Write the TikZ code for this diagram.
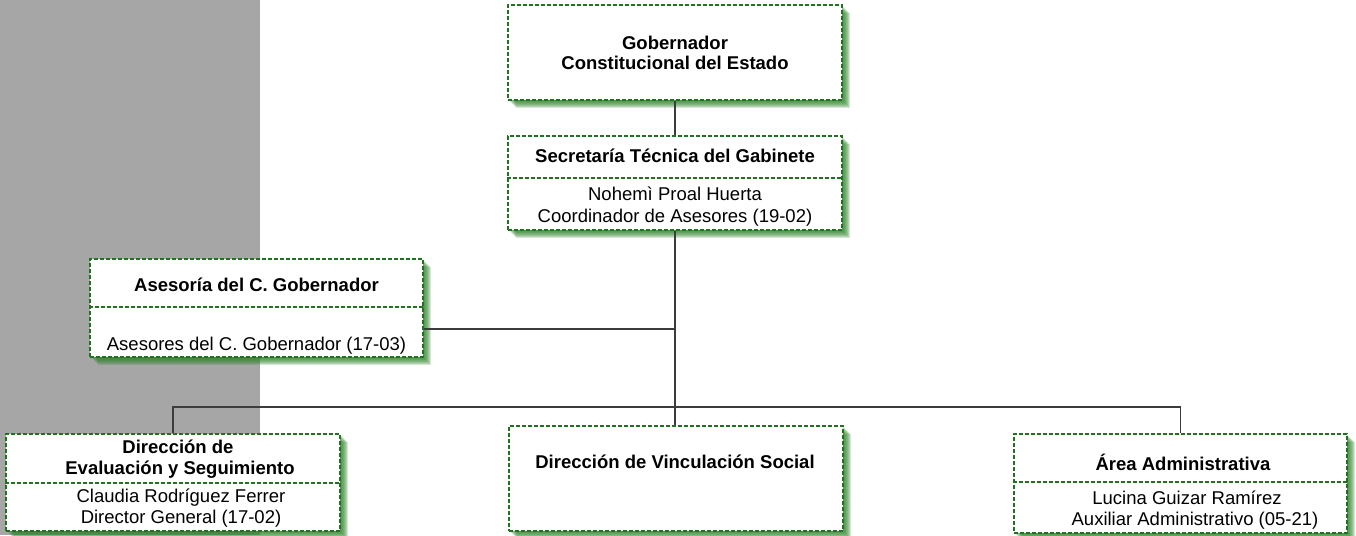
\documentclass[tikz,border=0pt]{standalone}
\usepackage{fontspec}
\setmainfont{Liberation Sans}
\definecolor{bggray}{RGB}{166,166,166}
\definecolor{dgreen}{RGB}{30,115,30}
\definecolor{shgreen}{RGB}{45,130,40}
\definecolor{linec}{RGB}{60,60,60}
\tikzset{
  sh/.style={preaction={fill=shgreen, fill opacity=0.2, transform canvas={shift={(#1pt,-#1pt)}}}},
  box/.style={draw=dgreen, dash pattern=on 4pt off 2pt, line width=1.2pt, fill=white, inner sep=0pt,
    sh=8, sh=7, sh=6, sh=5, sh=4, sh=3, sh=2, sh=1},
  divider/.style={draw=dgreen, dash pattern=on 4pt off 2pt, line width=1.1pt},
  conn/.style={draw=linec, line width=1.2pt},
  tb/.style={anchor=base, inner sep=0pt, font=\fontsize{18.5}{21}\selectfont\bfseries},
  tr/.style={anchor=base, inner sep=0pt, font=\fontsize{18.5}{21}\selectfont}
}
\begin{document}
\begin{tikzpicture}[x=1pt,y=-1pt]
\useasboundingbox (0,0) rectangle (1356,535);
\fill[bggray] (0,0) rectangle (260,535);

% boxes
\node[box, minimum width=334pt, minimum height=95pt] (gob) at (675,52.5) {};
\node[box, minimum width=334pt, minimum height=94pt] (sec) at (675,183) {};
\node[box, minimum width=333pt, minimum height=98pt] (ase) at (256.5,308) {};
\node[box, minimum width=334pt, minimum height=97pt] (eva) at (173,482.5) {};
\node[box, minimum width=334pt, minimum height=105pt] (vin) at (676,478.5) {};
\node[box, minimum width=333pt, minimum height=99pt] (area) at (1180.5,483.5) {};

% dividers
\draw[divider] (sec.west |- 0,178) -- (sec.east |- 0,178);
\draw[divider] (ase.west |- 0,307) -- (ase.east |- 0,307);
\draw[divider] (eva.west |- 0,483) -- (eva.east |- 0,483);
\draw[divider] (area.west |- 0,482) -- (area.east |- 0,482);

% connectors
\coordinate (bus) at (675,407);
\coordinate (asej) at (675,329);
\draw[conn] (gob.south) -- (sec.north);
\draw[conn] (sec.south) -- (bus);
\draw[conn] (bus) -- (vin.north -| bus);
\draw[conn] (ase.east |- asej) -- (asej);
\draw[conn] (eva.north) -- (eva.north |- bus) -- (area.north |- bus) -- (area.north);

% texts
\node[tb] (g1) at (675,49) {Gobernador};
\node[tb] (g2) at (675,70) {Constitucional del Estado};
\node[tb] (s1) at (675,162) {Secretaría Técnica del Gabinete};
\node[tr] (s2) at (675,200) {Nohemì Proal Huerta};
\node[tr] (s3) at (675,222) {Coordinador de Asesores (19-02)};
\node[tb] (a1) at (256.5,291) {Asesoría del C. Gobernador};
\node[tr] (a2) at (256.5,350) {Asesores del C. Gobernador (17-03)};
\node[tb] (e1) at (178,453) {Dirección de};
\node[tb] (e2) at (180,474) {Evaluación y Seguimiento};
\node[tr] (e3) at (181,502) {Claudia Rodríguez Ferrer};
\node[tr] (e4) at (181,523) {Director General (17-02)};
\node[tb] (v1) at (675,468) {Dirección de Vinculación Social};
\node[tb] (r1) at (1183,470) {Área Administrativa};
\node[tr] (r2) at (1187,504) {Lucina Guizar Ramírez};
\node[tr] (r3) at (1195,525) {Auxiliar Administrativo (05-21)};
\end{tikzpicture}
\end{document}
